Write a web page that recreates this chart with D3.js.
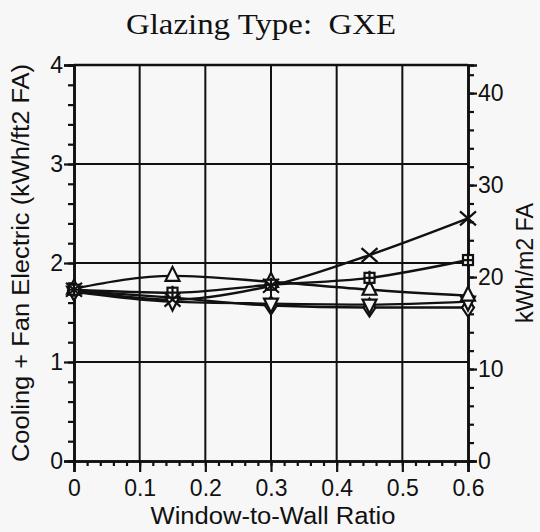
<!DOCTYPE html>
<html>
<head>
<meta charset="utf-8">
<script src="https://cdn.jsdelivr.net/npm/d3@7"></script>
<style>
  html, body { margin: 0; padding: 0; background: #f7f7f7; }
  svg { display: block; }
</style>
</head>
<body>
<svg id="chart" width="540" height="532"></svg>
<script>
//
// Data
//
const ratios = [0, 0.15, 0.3, 0.45, 0.6];
const crossVals = [1.73, 1.63, 1.77, 2.08, 2.45];
const plusVals = [1.73, 1.70, 1.78, 1.85, 2.03];
const triUpVals = [1.74, 1.87, 1.81, 1.73, 1.67];
const triDownVals = [1.71, 1.61, 1.59, 1.58, 1.61];
const diamondVals = [1.72, 1.65, 1.57, 1.55, 1.55];

const xTicks = [0, 0.1, 0.2, 0.3, 0.4, 0.5, 0.6];
const xTickLabels = ["0", "0.1", "0.2", "0.3", "0.4", "0.5", "0.6"];
const yTicks = [0, 1, 2, 3, 4];
const yRightTicks = [0, 10, 20, 30, 40];
const m2PerFt2 = 10.764;

const title = "Glazing Type:  GXE";
const xTitle = "Window-to-Wall Ratio";
const yTitle = "Cooling + Fan Electric (kWh/ft2 FA)";
const yRightTitle = "kWh/m2 FA";

//
// Setup
//
const svg = d3.select("#chart");
const plotLeft = 74, plotRight = 468, plotTop = 65, plotBottom = 461;
const ink = "#111";
const paper = "#f7f7f7";
const sans = "Liberation Sans, Arial, sans-serif";

const x = d3.scaleLinear().domain([0, 0.6]).range([plotLeft, plotRight]);
const y = d3.scaleLinear().domain([0, 4]).range([plotBottom, plotTop]);
const yR = d3.scaleLinear().domain([0, 4 * m2PerFt2]).range([plotBottom, plotTop]);

// grid
const grid = svg.append("g").attr("stroke", ink).attr("stroke-width", 2);
grid.selectAll(".vg").data(xTicks.slice(1, -1)).join("line")
  .attr("x1", d => x(d)).attr("x2", d => x(d))
  .attr("y1", plotTop).attr("y2", plotBottom);
grid.selectAll(".hg").data(yTicks.slice(1)).join("line")
  .attr("x1", plotLeft).attr("x2", plotRight)
  .attr("y1", d => y(d)).attr("y2", d => y(d));

// axes
function styleAxis(g) {
  g.select(".domain").attr("stroke", ink).attr("stroke-width", 2.6);
  g.selectAll(".tick line").attr("stroke", ink).attr("stroke-width", 2.2);
  g.selectAll(".tick text")
    .attr("fill", ink)
    .style("font-family", sans)
    .style("font-size", "23px");
}

// minor ticks first
svg.append("g").attr("transform", `translate(${plotLeft},0)`)
  .call(d3.axisLeft(y).tickValues(d3.range(0, 4.01, 0.2)).tickSize(6).tickFormat(""))
  .call(styleAxis);
svg.append("g").attr("transform", `translate(0,${plotBottom})`)
  .call(d3.axisBottom(x).tickValues(d3.range(0, 0.601, 0.02)).tickSize(5).tickFormat(""))
  .call(styleAxis);
svg.append("g").attr("transform", `translate(${plotRight},0)`)
  .call(d3.axisRight(yR).tickValues(d3.range(0, 43, 2)).tickSize(6).tickFormat(""))
  .call(styleAxis);

svg.append("g").attr("transform", `translate(${plotLeft},0)`)
  .call(d3.axisLeft(y).tickValues(yTicks).tickSize(10).tickPadding(1).tickFormat(d3.format("d")))
  .call(styleAxis);
svg.append("g").attr("transform", `translate(0,${plotBottom})`)
  .call(d3.axisBottom(x).tickValues(xTicks).tickSize(11).tickPadding(8)
    .tickFormat((d, i) => xTickLabels[i]))
  .call(styleAxis);
svg.append("g").attr("transform", `translate(${plotRight},0)`)
  .call(d3.axisRight(yR).tickValues(yRightTicks).tickSize(9).tickPadding(1).tickFormat(d3.format("d")))
  .call(styleAxis);

// top frame
svg.append("line")
  .attr("x1", plotLeft).attr("x2", plotRight).attr("y1", plotTop).attr("y2", plotTop)
  .attr("stroke", ink).attr("stroke-width", 2.6);

//
// Series
//
const series = [
  { vals: diamondVals, mark: "diamond" },
  { vals: triDownVals, mark: "tridown" },
  { vals: triUpVals, mark: "triup" },
  { vals: plusVals, mark: "plus" },
  { vals: crossVals, mark: "cross" }
];

const line = d3.line()
  .x((d, i) => x(ratios[i]))
  .y(d => y(d))
  .curve(d3.curveMonotoneX);

svg.append("g").selectAll("path").data(series).join("path")
  .attr("d", s => line(s.vals))
  .attr("fill", "none")
  .attr("stroke", ink)
  .attr("stroke-width", 2.4);

function drawMark(g, mark) {
  if (mark === "cross") {
    g.append("path").attr("d", "M-8,-7L8,7M-8,7L8,-7")
      .attr("stroke", ink).attr("stroke-width", 2.2).attr("fill", "none");
  } else if (mark === "plus") {
    g.append("rect").attr("x", -5).attr("y", -5).attr("width", 10).attr("height", 10)
      .attr("fill", paper).attr("stroke", ink).attr("stroke-width", 2.2);
    g.append("path").attr("d", "M-6,0H6M0,-7V7")
      .attr("stroke", ink).attr("stroke-width", 2.2);
  } else if (mark === "triup") {
    g.append("path").attr("d", "M0,-9L7,5H-7Z")
      .attr("fill", paper).attr("stroke", ink).attr("stroke-width", 2.2);
  } else if (mark === "tridown") {
    g.append("path").attr("d", "M0,9L7,-5H-7Z")
      .attr("fill", paper).attr("stroke", ink).attr("stroke-width", 2.2);
  } else if (mark === "diamond") {
    g.append("path").attr("d", "M0,-9L6,0L0,9L-6,0Z")
      .attr("fill", paper).attr("stroke", ink).attr("stroke-width", 2.2);
  }
}

series.forEach(s => {
  s.vals.forEach((v, i) => {
    const g = svg.append("g").attr("transform", `translate(${x(ratios[i])},${y(v)})`);
    drawMark(g, s.mark);
  });
});

//
// Titles
//
svg.append("text")
  .attr("x", 261).attr("y", 34)
  .attr("text-anchor", "middle")
  .attr("textLength", 270).attr("lengthAdjust", "spacingAndGlyphs")
  .style("font-family", "Liberation Serif, Times New Roman, serif")
  .style("font-size", "29px")
  .attr("fill", ink)
  .style("white-space", "pre")
  .text(title);

svg.append("text")
  .attr("x", 273).attr("y", 524)
  .attr("text-anchor", "middle")
  .attr("textLength", 245).attr("lengthAdjust", "spacingAndGlyphs")
  .style("font-family", sans)
  .style("font-size", "23px")
  .attr("fill", ink)
  .text(xTitle);

svg.append("text")
  .attr("transform", `translate(29,263) rotate(-90)`)
  .attr("text-anchor", "middle")
  .attr("textLength", 398).attr("lengthAdjust", "spacingAndGlyphs")
  .style("font-family", sans)
  .style("font-size", "23px")
  .attr("fill", ink)
  .text(yTitle);

svg.append("text")
  .attr("transform", `translate(533,263) rotate(-90)`)
  .attr("text-anchor", "middle")
  .attr("textLength", 120).attr("lengthAdjust", "spacingAndGlyphs")
  .style("font-family", sans)
  .style("font-size", "23px")
  .attr("fill", ink)
  .text(yRightTitle);
</script>
</body>
</html>
